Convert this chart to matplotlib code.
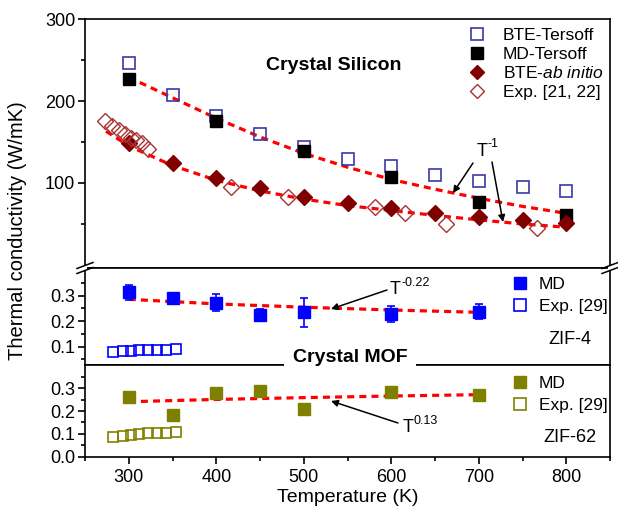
import matplotlib.pyplot as plt
from matplotlib.lines import Line2D
from matplotlib.patches import FancyArrowPatch, Rectangle

plt.rcParams['font.family'] = ['Liberation Sans', 'DejaVu Sans']
plt.rcParams['mathtext.fontset'] = 'custom'
plt.rcParams['mathtext.rm'] = 'Liberation Sans'
plt.rcParams['mathtext.it'] = 'Liberation Sans:italic'
plt.rcParams['mathtext.bf'] = 'Liberation Sans:bold'

# ---- crystal silicon ----
T_si = [300, 350, 400, 450, 500, 550, 600, 650, 700, 750, 800]
bte_tersoff = [247, 207, 182, 159, 144, 129, 120, 110, 102, 95, 90]
bte_abinitio = [148, 124, 106, 93, 82.5, 75, 69, 63, 58, 54, 51]
T_md_si = [300, 400, 500, 600, 700, 800]
md_tersoff = [227, 175, 139, 107, 76, 61]
T_exp_si = [273, 281, 289, 296, 302, 308, 315, 322, 417, 482, 581, 616, 663, 766]
exp_si = [176, 170, 164, 160, 155, 152, 148, 141, 95, 83, 70, 62.5, 49.5, 44]
T_fit_up = [300, 350, 400, 450, 500, 550, 600, 650, 700, 750, 800]
fit_up = [229, 204, 179, 156, 136, 119, 104, 92, 81, 71, 62.5]
T_fit_lo = [274, 300, 350, 400, 450, 500, 550, 600, 650, 700, 750, 800]
fit_lo = [163, 145, 121, 103, 90, 80, 72, 66, 60, 54.5, 49.5, 45.5]

# ---- crystal MOF ----
T_mof = [300, 350, 400, 450, 500, 600, 700]
zif4_md = [0.313, 0.292, 0.273, 0.224, 0.235, 0.228, 0.237]
zif4_err = [0.031, 0.015, 0.034, 0.022, 0.058, 0.032, 0.030]
zif62_md = [0.263, 0.183, 0.278, 0.288, 0.209, 0.282, 0.271]
T_exp_mof = [282, 293, 302, 312, 322, 332, 342, 354]
zif4_exp = [0.078, 0.083, 0.083, 0.086, 0.087, 0.087, 0.087, 0.090]
zif62_exp = [0.088, 0.092, 0.095, 0.100, 0.103, 0.104, 0.105, 0.108]
T_mof_fit = [300, 400, 500, 600, 700]
zif4_fit = [0.286, 0.268, 0.255, 0.244, 0.235]
zif62_fit = [0.241, 0.251, 0.259, 0.266, 0.272]

W, H = 618, 515
def fp(x, y):
    return (x / W, 1 - y / H)

def box(top, bottom):
    return [85 / W, 1 - bottom / H, 525 / W, (bottom - top) / H]

fig = plt.figure(figsize=(W / 100, H / 100), dpi=100)
ax1 = fig.add_axes(box(19.3, 268))
ax2 = fig.add_axes(box(268, 365))
ax3 = fig.add_axes(box(365, 456.7))

blue_dk = '#3a3aa8'
red_dk = '#800000'
red_exp = '#a83232'
blue = '#0000ff'
olive = '#808000'
dash = dict(color='red', lw=2.3, ls=(0, (2.2, 1.6)))

# top panel
ax1.plot(T_fit_up, fit_up, zorder=2, **dash)
ax1.plot(T_fit_lo, fit_lo, zorder=2, **dash)
ax1.plot(T_si, bte_tersoff, 's', mfc='none', mec=blue_dk, ms=9, mew=1.2, zorder=3)
ax1.plot(T_md_si, md_tersoff, 's', color='black', ms=9, zorder=3)
ax1.plot(T_si, bte_abinitio, 'D', color=red_dk, ms=8, zorder=3)
ax1.plot(T_exp_si, exp_si, 'D', mfc='none', mec=red_exp, ms=8, mew=1.0, zorder=4)
ax1.set_ylim(-4.4, 300)
ax1.set_yticks([100, 200, 300])
ax1.set_yticks([50, 150, 250], minor=True)

# middle panel
ax2.plot(T_mof_fit, zif4_fit, zorder=2, **dash)
ax2.errorbar(T_mof, zif4_md, yerr=zif4_err, fmt='s', color=blue, ms=8.5,
             capsize=3, elinewidth=1.2, capthick=1.2, zorder=3)
ax2.plot(T_exp_mof, zif4_exp, 's', mfc='none', mec=blue, ms=7, mew=1.2, zorder=3)
ax2.set_ylim(0.028, 0.409)
ax2.set_yticks([0.1, 0.2, 0.3])
ax2.set_yticks([0.05, 0.15, 0.25, 0.35], minor=True)

# bottom panel
ax3.plot(T_mof_fit, zif62_fit, zorder=2, **dash)
ax3.plot(T_mof, zif62_md, 's', color=olive, ms=8.5, zorder=3)
ax3.plot(T_exp_mof, zif62_exp, 's', mfc='none', mec=olive, ms=7, mew=1.2, zorder=3)
ax3.set_ylim(0, 0.402)
ax3.set_yticks([0.0, 0.1, 0.2, 0.3])
ax3.set_yticks([0.05, 0.15, 0.25, 0.35], minor=True)
ax3.set_xticks([300, 400, 500, 600, 700, 800])
ax3.set_xticks([250, 350, 450, 550, 650, 750, 850], minor=True)
ax3.set_xlabel('Temperature (K)', fontsize=14, labelpad=2)

for ax in (ax1, ax2, ax3):
    ax.set_xlim(250, 850)
    for s in ax.spines.values():
        s.set_linewidth(1.2)
    ax.tick_params(axis='y', which='major', direction='out', length=5, width=1.2, labelsize=13, pad=2)
    ax.tick_params(axis='y', which='minor', direction='out', length=3, width=1.2)
    if ax is not ax3:
        ax.tick_params(axis='x', which='both', bottom=False, labelbottom=False)
ax3.tick_params(axis='x', which='major', direction='out', length=5, width=1.2, labelsize=13, pad=4)
ax3.tick_params(axis='x', which='minor', direction='out', length=3, width=1.2)
ax2.yaxis.set_major_formatter(plt.FormatStrFormatter('%.1f'))
ax3.yaxis.set_major_formatter(plt.FormatStrFormatter('%.1f'))

fig.text(*fp(18, 231), 'Thermal conductivity (W/mK)', rotation=90, fontsize=14.5,
         ha='center', va='center')

# legends
h_si = [Line2D([], [], ls='none', marker='s', mfc='none', mec=blue_dk, ms=8, mew=1.2),
        Line2D([], [], ls='none', marker='s', color='black', ms=8),
        Line2D([], [], ls='none', marker='D', color=red_dk, ms=7),
        Line2D([], [], ls='none', marker='D', mfc='none', mec=red_exp, ms=7)]
ax1.legend(h_si, ['BTE-Tersoff', 'MD-Tersoff', 'BTE-$\\mathit{ab\\ initio}$', 'Exp. [21, 22]'],
           loc='upper left', bbox_to_anchor=fp(468, 28), bbox_transform=fig.transFigure,
           frameon=False, borderpad=0, borderaxespad=0, handlelength=1.0,
           handletextpad=1.0, labelspacing=0.2, fontsize=12.5)
h4 = [Line2D([], [], ls='none', marker='s', color=blue, ms=8),
      Line2D([], [], ls='none', marker='s', mfc='none', mec=blue, ms=8, mew=1.2)]
ax2.legend(h4, ['MD', 'Exp. [29]'], loc='upper left', bbox_to_anchor=fp(511, 277),
           bbox_transform=fig.transFigure, frameon=False, borderpad=0, borderaxespad=0,
           handlelength=1.0, handletextpad=0.6, labelspacing=0.4, fontsize=12.5)
h62 = [Line2D([], [], ls='none', marker='s', color=olive, ms=8),
       Line2D([], [], ls='none', marker='s', mfc='none', mec=olive, ms=8, mew=1.2)]
ax3.legend(h62, ['MD', 'Exp. [29]'], loc='upper left', bbox_to_anchor=fp(511, 376),
           bbox_transform=fig.transFigure, frameon=False, borderpad=0, borderaxespad=0,
           handlelength=1.0, handletextpad=0.6, labelspacing=0.4, fontsize=12.5)

# labels
fig.text(*fp(334, 66), 'Crystal Silicon', fontsize=14, fontweight='bold', ha='center', va='center')
fig.text(*fp(350, 357), 'Crystal MOF', fontsize=14, fontweight='bold', ha='center', va='center',
         bbox=dict(facecolor='white', edgecolor='none', pad=6), zorder=10)
fig.text(*fp(570, 339), 'ZIF-4', fontsize=13, ha='center', va='center')
fig.text(*fp(570, 438), 'ZIF-62', fontsize=13, ha='center', va='center')

# power-law labels: T with a plain-text superscript (hyphen, as in the original)
def power_label(x, y, sup):
    fig.text(*fp(x, y), 'T', fontsize=13, ha='left', va='center')
    fig.text(*fp(x + 11, y - 7), sup, fontsize=9, ha='left', va='center')

power_label(477, 151, '-1')
power_label(390, 290, '-0.22')
power_label(403, 428, '0.13')

arrow = dict(arrowstyle='-|>', color='black', lw=1.1, mutation_scale=10, shrinkA=0, shrinkB=0)
for start, end in [((473, 163), (453, 193)), ((492, 162), (503, 222)),
                   ((387, 290), (331, 309)), ((398, 423), (331, 401))]:
    fig.add_artist(FancyArrowPatch(fp(*start), fp(*end), transform=fig.transFigure, **arrow))

# axis break marks
for xb in (85, 610):
    fig.add_artist(Rectangle(fp(xb - 2, 270.5), 4 / W, 5 / H, transform=fig.transFigure,
                             facecolor='white', edgecolor='none', zorder=9))
    for dy in (-2.5, 2.5):
        fig.add_artist(Line2D([(xb - 8) / W, (xb + 8) / W],
                              [1 - (268 + dy + 3) / H, 1 - (268 + dy - 3) / H],
                              transform=fig.transFigure, color='black', lw=1.1, zorder=10))

fig.savefig('out.png', dpi=100)
